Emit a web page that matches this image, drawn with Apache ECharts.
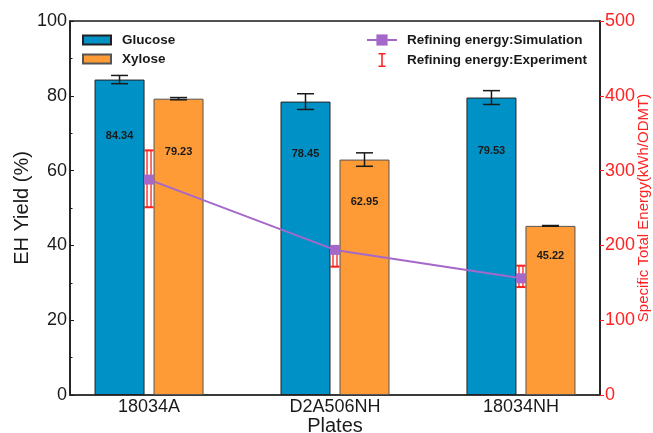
<!DOCTYPE html>
<html>
<head>
<meta charset="utf-8">
<script src="https://cdn.jsdelivr.net/npm/echarts@6/dist/echarts.min.js"></script>
<style>
  html, body { margin: 0; padding: 0; background: #fff; }
  #chart { width: 653px; height: 433px; }
</style>
</head>
<body>
<div id="chart"></div>
<script>
// Plates and measured enzymatic hydrolysis yields (%)
const plates = ['18034A', 'D2A506NH', '18034NH'];
const glucose = [84.34, 78.45, 79.53];
const glucoseErr = [1.1, 2.1, 1.85];
const xylose = [79.23, 62.95, 45.22];
const xyloseErr = [0.3, 1.8, 0.1];

// Specific refining energy (kWh/ODMT)
const energySim = [288, 194, 156];
const energyExp = [289, 184.3, 158.6];
const energyExpErr = [38, 12.7, 14.3];

// Axis tick values
const yieldTicks = [0, 20, 40, 60, 80, 100];
const energyTicks = [0, 100, 200, 300, 400, 500];

const BLUE = '#0092C6';
const ORANGE = '#FF9B37';
const PURPLE = '#A468CA';
const RED = '#FF2222';
const INK = '#1a1a1a';

const BAR_W = 50;
const BAR_GAP = 9;
const BAR_SHIFT = (BAR_W + BAR_GAP) / 2;

const xPos = plates.map((_, i) => i + 1);

function barErrors(name, values, errs, shift) {
  return {
    type: 'custom',
    name: name,
    z: 4,
    silent: true,
    xAxisIndex: 0,
    yAxisIndex: 0,
    encode: { x: 0, y: [1, 2] },
    data: values.map((v, i) => [xPos[i], v - errs[i], v + errs[i]]),
    renderItem: function (params, api) {
      const lo = api.coord([api.value(0), api.value(1)]);
      const hi = api.coord([api.value(0), api.value(2)]);
      const x = lo[0] + shift;
      const cap = 8.5;
      const st = { stroke: INK, lineWidth: 1.5 };
      return {
        type: 'group',
        children: [
          { type: 'line', shape: { x1: x, y1: hi[1], x2: x, y2: lo[1] }, style: st },
          { type: 'line', shape: { x1: x - cap, y1: hi[1], x2: x + cap, y2: hi[1] }, style: st },
          { type: 'line', shape: { x1: x - cap, y1: lo[1], x2: x + cap, y2: lo[1] }, style: st }
        ]
      };
    }
  };
}

const barLabel = {
  show: true,
  position: ['50%', '18%'],
  align: 'center',
  verticalAlign: 'middle',
  fontSize: 11,
  fontWeight: 'bold',
  color: INK,
  formatter: p => p.value[1].toFixed(2)
};

const I_ICON = 'path://M0,0H9V2H5.5V16H9V18H0V16H3.5V2H0Z';

const chart = echarts.init(document.getElementById('chart'), null, { renderer: 'canvas' });

chart.setOption({
  animation: false,
  backgroundColor: '#fff',
  textStyle: { fontFamily: 'Liberation Sans, Arial, sans-serif' },
  grid: {
    left: 70, right: 53, top: 21, bottom: 38,
    outerBoundsMode: 'none',
    containLabel: false,
    show: true, borderColor: INK, borderWidth: 1.5, backgroundColor: 'transparent'
  },
  legend: [
    {
      data: [{ name: 'Glucose', icon: 'rect' }, { name: 'Xylose', icon: 'rect' }],
      orient: 'vertical',
      left: 82, top: 33,
      padding: 0,
      itemWidth: 28, itemHeight: 9, itemGap: 5,
      selectedMode: false,
      textStyle: { fontSize: 13.5, fontWeight: 'bold', color: INK, padding: [0, 0, 0, 6] }
    },
    {
      data: [
        { name: 'Refining energy:Simulation' },
        { name: 'Refining energy:Experiment', icon: I_ICON }
      ],
      orient: 'vertical',
      left: 366, top: 33,
      padding: 0,
      itemWidth: 30, itemHeight: 14, itemGap: 6,
      selectedMode: false,
      textStyle: { fontSize: 13.5, fontWeight: 'bold', color: INK, padding: [0, 0, 0, 5] }
    }
  ],
  xAxis: {
    type: 'value',
    min: 0.575, max: 3.425,
    axisLine: { show: true, lineStyle: { color: '#333', width: 1.5 } },
    axisTick: { show: false },
    splitLine: { show: false },
    axisLabel: {
      customValues: xPos,
      formatter: v => plates[Math.round(v) - 1],
      fontSize: 18, color: INK, margin: 3
    },
    name: 'Plates',
    nameLocation: 'middle',
    nameGap: 21,
    nameMoveOverlap: false,
    nameTextStyle: { fontSize: 20, color: INK }
  },
  yAxis: [
    {
      type: 'value',
      position: 'left',
      min: yieldTicks[0], max: yieldTicks[yieldTicks.length - 1],
      interval: yieldTicks[1] - yieldTicks[0],
      axisLine: { show: true, onZero: false, lineStyle: { color: INK, width: 1.5 } },
      axisTick: { show: true, inside: true, length: 4, lineStyle: { color: INK, width: 1 } },
      minorTick: { show: true, splitNumber: 2, length: 2.5, lineStyle: { color: INK, width: 1 } },
      splitLine: { show: false },
      axisLabel: { fontSize: 18, color: INK, margin: 3 },
      name: 'EH Yield (%)',
      nameLocation: 'middle',
      nameGap: 38,
      nameMoveOverlap: false,
      nameTextStyle: { fontSize: 20, color: INK }
    },
    {
      type: 'value',
      position: 'right',
      min: energyTicks[0], max: energyTicks[energyTicks.length - 1],
      interval: energyTicks[1] - energyTicks[0],
      axisLine: { show: true, onZero: false, lineStyle: { color: INK, width: 1.5 } },
      axisTick: { show: true, inside: false, length: 4, lineStyle: { color: RED, width: 1 } },
      splitLine: { show: false },
      axisLabel: { fontSize: 18, color: RED, margin: 5 },
      name: 'Specific Total Energy(kWh/ODMT)',
      nameLocation: 'middle',
      nameGap: 36,
      nameMoveOverlap: false,
      nameTextStyle: { fontSize: 15, color: RED }
    }
  ],
  series: [
    {
      type: 'custom',
      name: 'Refining energy:Experiment',
      z: 1,
      silent: true,
      xAxisIndex: 0,
      yAxisIndex: 1,
      itemStyle: { color: RED },
      encode: { x: 0, y: [1, 2] },
      data: energyExp.map((v, i) => [xPos[i], v - energyExpErr[i], v + energyExpErr[i]]),
      renderItem: function (params, api) {
        const lo = api.coord([api.value(0), api.value(1)]);
        const hi = api.coord([api.value(0), api.value(2)]);
        const x = lo[0];
        const cap = 4.5;
        return {
          type: 'group',
          children: [
            { type: 'rect', shape: { x: x - 2, y: hi[1], width: 4, height: lo[1] - hi[1] },
              style: { fill: '#fff', stroke: RED, lineWidth: 1.3 } },
            { type: 'line', shape: { x1: x - cap, y1: hi[1], x2: x + cap, y2: hi[1] },
              style: { stroke: RED, lineWidth: 2 } },
            { type: 'line', shape: { x1: x - cap, y1: lo[1], x2: x + cap, y2: lo[1] },
              style: { stroke: RED, lineWidth: 2 } }
          ]
        };
      }
    },
    {
      type: 'bar',
      name: 'Glucose',
      z: 2,
      barWidth: BAR_W,
      barGap: (BAR_GAP / BAR_W * 100) + '%',
      data: glucose.map((v, i) => [xPos[i], v]),
      itemStyle: { color: BLUE, borderColor: '#222', borderWidth: 1 },
      label: barLabel
    },
    {
      type: 'bar',
      name: 'Xylose',
      z: 2,
      barWidth: BAR_W,
      barGap: (BAR_GAP / BAR_W * 100) + '%',
      data: xylose.map((v, i) => [xPos[i], v]),
      itemStyle: { color: ORANGE, borderColor: '#555', borderWidth: 1 },
      label: barLabel
    },
    barErrors('glucose-sd', glucose, glucoseErr, -BAR_SHIFT),
    barErrors('xylose-sd', xylose, xyloseErr, BAR_SHIFT),
    {
      type: 'line',
      name: 'Refining energy:Simulation',
      z: 5,
      yAxisIndex: 1,
      data: energySim.map((v, i) => [xPos[i], v]),
      symbol: 'rect',
      symbolSize: 10,
      lineStyle: { color: PURPLE, width: 2 },
      itemStyle: { color: PURPLE }
    }
  ]
});
</script>
</body>
</html>
